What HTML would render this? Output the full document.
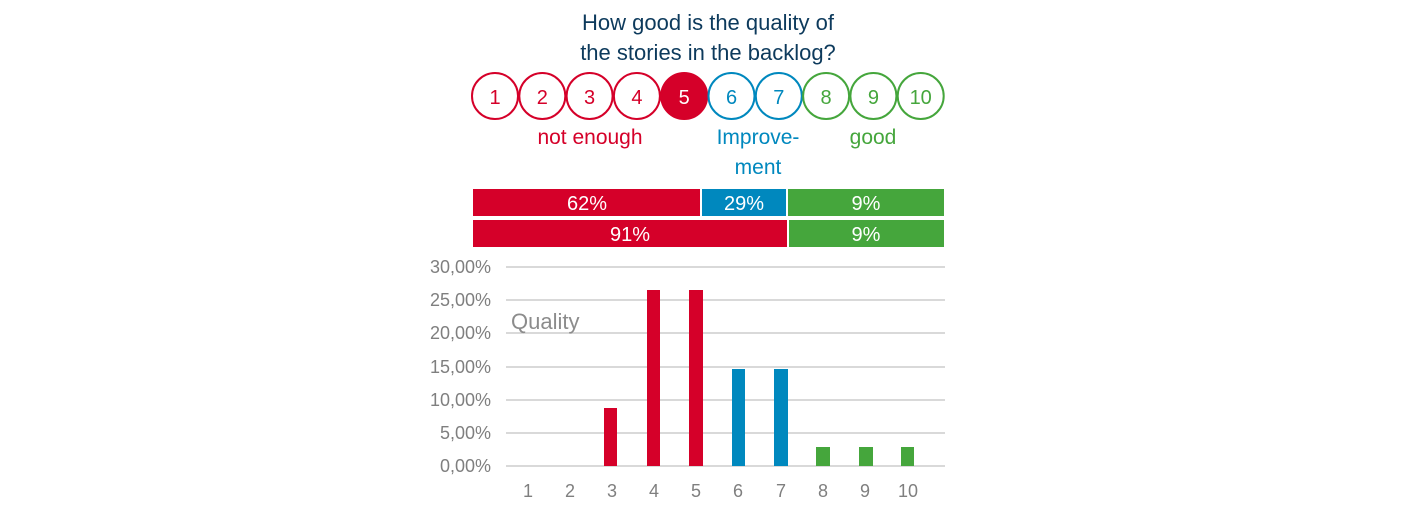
<!DOCTYPE html>
<html><head><meta charset="utf-8"><style>
html,body{margin:0;padding:0;background:#fff;}
svg{display:block;}
text{font-family:"Liberation Sans","DejaVu Sans",sans-serif;}
</style></head><body>
<svg width="1417" height="512" viewBox="0 0 1417 512" xmlns="http://www.w3.org/2000/svg">
<g fill="#0d3a5c" font-size="22" text-anchor="middle">
<text x="708" y="30">How good is the quality of</text>
<text x="708" y="60">the stories in the backlog?</text>
</g>
<g stroke-width="2" fill="none">
<circle cx="495" cy="96" r="23" stroke="#d50029"/>
<circle cx="542.3" cy="96" r="23" stroke="#d50029"/>
<circle cx="589.6" cy="96" r="23" stroke="#d50029"/>
<circle cx="636.9" cy="96" r="23" stroke="#d50029"/>
<circle cx="684.2" cy="96" r="23" stroke="#d50029" fill="#d50029"/>
<circle cx="731.5" cy="96" r="23" stroke="#0088be"/>
<circle cx="778.8" cy="96" r="23" stroke="#0088be"/>
<circle cx="826.1" cy="96" r="23" stroke="#45a63c"/>
<circle cx="873.4" cy="96" r="23" stroke="#45a63c"/>
<circle cx="920.7" cy="96" r="23" stroke="#45a63c"/>
</g>
<g font-size="20" text-anchor="middle">
<text x="495" y="104" fill="#d50029">1</text>
<text x="542.3" y="104" fill="#d50029">2</text>
<text x="589.6" y="104" fill="#d50029">3</text>
<text x="636.9" y="104" fill="#d50029">4</text>
<text x="684.2" y="104" fill="#fff">5</text>
<text x="731.5" y="104" fill="#0088be">6</text>
<text x="778.8" y="104" fill="#0088be">7</text>
<text x="826.1" y="104" fill="#45a63c">8</text>
<text x="873.4" y="104" fill="#45a63c">9</text>
<text x="920.7" y="104" fill="#45a63c">10</text>
</g>
<g font-size="21" text-anchor="middle">
<text x="590" y="144" fill="#d50029">not enough</text>
<text x="758" y="144" fill="#0088be">Improve-</text>
<text x="758" y="174" fill="#0088be">ment</text>
<text x="873" y="144" fill="#45a63c">good</text>
</g>
<rect x="473" y="189" width="227" height="27" fill="#d50029"/>
<rect x="702" y="189" width="84" height="27" fill="#0088be"/>
<rect x="788" y="189" width="156" height="27" fill="#45a63c"/>
<rect x="473" y="220" width="314" height="27" fill="#d50029"/>
<rect x="789" y="220" width="155" height="27" fill="#45a63c"/>
<g font-size="20" fill="#fff" text-anchor="middle">
<text x="587" y="210">62%</text>
<text x="744" y="210">29%</text>
<text x="866" y="210">9%</text>
<text x="630" y="241">91%</text>
<text x="866" y="241">9%</text>
</g>
<g stroke="#d9d9d9" stroke-width="2">
<line x1="506" y1="267" x2="945" y2="267"/>
<line x1="506" y1="300" x2="945" y2="300"/>
<line x1="506" y1="333" x2="945" y2="333"/>
<line x1="506" y1="367" x2="945" y2="367"/>
<line x1="506" y1="400" x2="945" y2="400"/>
<line x1="506" y1="433" x2="945" y2="433"/>
<line x1="506" y1="466" x2="945" y2="466"/>
</g>
<g font-size="18" fill="#7f7f7f" text-anchor="end">
<text x="491" y="273">30,00%</text>
<text x="491" y="306">25,00%</text>
<text x="491" y="339">20,00%</text>
<text x="491" y="373">15,00%</text>
<text x="491" y="406">10,00%</text>
<text x="491" y="439">5,00%</text>
<text x="491" y="472">0,00%</text>
</g>
<text x="511" y="329" font-size="22" fill="#8c8c8c">Quality</text>
<rect x="604" y="408" width="13" height="58" fill="#d50029"/>
<rect x="647" y="290" width="13" height="176" fill="#d50029"/>
<rect x="689" y="290" width="14" height="176" fill="#d50029"/>
<rect x="732" y="369" width="13" height="97" fill="#0088be"/>
<rect x="774" y="369" width="14" height="97" fill="#0088be"/>
<rect x="816" y="447" width="14" height="19" fill="#45a63c"/>
<rect x="859" y="447" width="14" height="19" fill="#45a63c"/>
<rect x="901" y="447" width="13" height="19" fill="#45a63c"/>
<g font-size="18" fill="#7f7f7f" text-anchor="middle">
<text x="528" y="497">1</text>
<text x="570" y="497">2</text>
<text x="612" y="497">3</text>
<text x="654" y="497">4</text>
<text x="696" y="497">5</text>
<text x="738" y="497">6</text>
<text x="781" y="497">7</text>
<text x="823" y="497">8</text>
<text x="865" y="497">9</text>
<text x="908" y="497">10</text>
</g>
</svg>
</body></html>
